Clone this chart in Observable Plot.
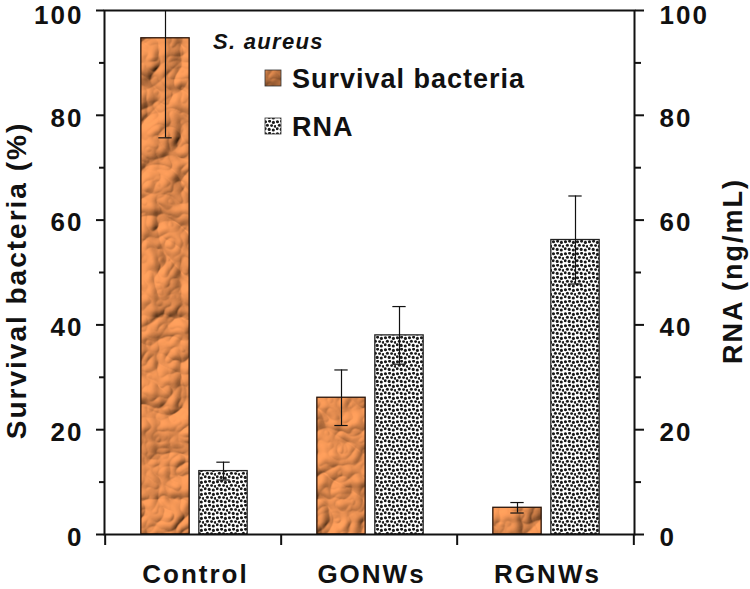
<!DOCTYPE html>
<html><head><meta charset="utf-8">
<script src="https://cdn.jsdelivr.net/npm/d3@7"></script>
<script src="https://cdn.jsdelivr.net/npm/@observablehq/plot@0.6"></script>
<style>
body{margin:0;background:#fff;}
#wrap{position:relative;width:750px;height:589px;}
#legend{position:absolute;left:0;top:0;pointer-events:none;overflow:visible;}
</style></head><body><div id="wrap"></div>
<script>
const categories = ["Control", "GONWs", "RGNWs"];
const survival = [94.7, 26.1, 5.1];
const survivalErr = [19.0, 5.3, 1.0];
const rna = [12.1, 38.0, 56.2];
const rnaErr = [1.7, 5.5, 8.4];
const majorTicks = [0, 20, 40, 60, 80, 100];
const minorTicks = [10, 30, 50, 70, 90];
const leftTitle = "Survival bacteria (%)";
const rightTitle = "RNA (ng/mL)";
const legendTitle = "S. aureus";
const seriesNames = ["Survival bacteria", "RNA"];

const W = 750, H = 589, mL = 104, mR = 116, mT = 10, mB = 55;
const BW = (W - mL - mR) / categories.length;
const barW = 49, gap = 9, shift = 1;
const sIL = BW / 2 + shift - gap / 2 - barW, sIR = BW - sIL - barW;
const rIL = BW / 2 + shift + gap / 2, rIR = BW - rIL - barW;
const sDx = shift - gap / 2 - barW / 2, rDx = shift + gap / 2 + barW / 2;
const capHalf = 7;
const ink = "#111";

const rows = categories.map((c, i) => ({category: c, survival: survival[i], sErr: survivalErr[i], rna: rna[i], rErr: rnaErr[i]}));

const errMarks = (key, errKey, dx) => [
  Plot.ruleX(rows, {x: "category", y1: d => d[key] - d[errKey], y2: d => d[key] + d[errKey], dx, stroke: ink, strokeWidth: 1.2, clip: true}),
  Plot.tickY(rows, {x: "category", y: d => d[key] + d[errKey], dx, insetLeft: BW / 2 - capHalf, insetRight: BW / 2 - capHalf, stroke: ink, strokeWidth: 1.2, clip: true}),
  Plot.tickY(rows, {x: "category", y: d => d[key] - d[errKey], dx, insetLeft: BW / 2 - capHalf, insetRight: BW / 2 - capHalf, stroke: ink, strokeWidth: 1.2, clip: true})
];

const lowLabels = majorTicks.slice(0, -1);
const topLabel = majorTicks.slice(-1);

const plot = Plot.plot({
  width: W, height: H, marginLeft: mL, marginRight: mR, marginTop: mT, marginBottom: mB,
  style: {fontFamily: "'Liberation Sans', Arial, sans-serif", fontWeight: "bold", fontSize: "26px", color: ink, background: "#fff", letterSpacing: "2px", overflow: "visible"},
  x: {domain: categories, padding: 0, axis: null},
  y: {domain: [0, 100], axis: null},
  marks: [
    Plot.barY(rows, {x: "category", y: "survival", fill: "url(#paper)", stroke: "#2a1408", strokeWidth: 1.3, insetLeft: sIL, insetRight: sIR}),
    Plot.barY(rows, {x: "category", y: "rna", fill: "url(#dots)", stroke: "#222", strokeWidth: 1.3, insetLeft: rIL, insetRight: rIR}),
    ...errMarks("survival", "sErr", sDx),
    ...errMarks("rna", "rErr", rDx),
    Plot.frame({stroke: ink, strokeWidth: 2}),
    // left axis: ticks, minor ticks, labels
    Plot.axisY(majorTicks, {anchor: "left", tickSize: 8, strokeWidth: 2, tickFormat: () => "", label: null}),
    Plot.axisY(minorTicks, {anchor: "left", tickSize: 5, strokeWidth: 2, tickFormat: () => "", label: null}),
    Plot.axisY(lowLabels, {anchor: "left", tickSize: 0, tickPadding: 21, dy: 3, label: null}),
    Plot.axisY(topLabel, {anchor: "left", tickSize: 0, tickPadding: 21, dy: 5.5, label: null}),
    // right axis
    Plot.axisY(majorTicks, {anchor: "right", tickSize: 9, strokeWidth: 2, tickFormat: () => "", label: null}),
    Plot.axisY(minorTicks, {anchor: "right", tickSize: 6, strokeWidth: 2, tickFormat: () => "", label: null}),
    Plot.axisY(lowLabels, {anchor: "right", tickSize: 0, tickPadding: 25, dy: 3, label: null}),
    Plot.axisY(topLabel, {anchor: "right", tickSize: 0, tickPadding: 25, dy: 5.5, label: null}),
    // category separators below the baseline
    Plot.ruleX(categories, {x: d => d, dx: -BW / 2, y1: 0, y2: 0, insetBottom: -11, stroke: ink, strokeWidth: 2}),
    Plot.ruleX(categories.slice(-1), {x: d => d, dx: BW / 2, y1: 0, y2: 0, insetBottom: -11, stroke: ink, strokeWidth: 2}),
    Plot.axisX({tickSize: 0, tickPadding: 30, dx: 2, label: null}),
    Plot.text([leftTitle], {text: d => d, frameAnchor: "left", textAnchor: "middle", rotate: -90, dx: -87.5, dy: 8, fontSize: 28}),
    Plot.text([rightTitle], {text: d => d, frameAnchor: "right", textAnchor: "middle", rotate: -90, dx: 98.4, dy: -1.5, fontSize: 27})
  ]
});

d3.select(plot).insert("defs", ":first-child").html(`
  <filter id="crumpleF" filterUnits="userSpaceOnUse" x="0" y="0" width="${W}" height="${H}">
    <feTurbulence type="turbulence" baseFrequency="0.022" numOctaves="3" seed="4" result="t"/>
    <feDiffuseLighting in="t" surfaceScale="7" diffuseConstant="1.15" lighting-color="#f89a58" result="d">
      <feDistantLight azimuth="225" elevation="45"/>
    </feDiffuseLighting>
    <feComposite in="d" in2="SourceAlpha" operator="in"/>
  </filter>
  <pattern id="paper" patternUnits="userSpaceOnUse" width="${W}" height="${H}">
    <rect width="${W}" height="${H}" fill="#d98850" filter="url(#crumpleF)"/>
  </pattern>
  <pattern id="dots" patternUnits="userSpaceOnUse" width="12" height="12">
    <rect width="12" height="12" fill="#fff"/>
    <g fill="#1a1a1a">
      <circle cx="1.5" cy="1.8" r="1.55"/><circle cx="5.6" cy="1.2" r="1.45"/><circle cx="9.4" cy="2.4" r="1.55"/>
      <circle cx="3.4" cy="5.2" r="1.55"/><circle cx="7.6" cy="5.6" r="1.45"/><circle cx="11.2" cy="6.4" r="1.35"/>
      <circle cx="1.2" cy="8.8" r="1.45"/><circle cx="5.2" cy="9.4" r="1.55"/><circle cx="9.3" cy="10" r="1.55"/>
    </g>
  </pattern>`);

const wrap = document.getElementById("wrap");
wrap.appendChild(plot);

// legend
const lg = d3.select(wrap).append("svg").attr("id", "legend").attr("width", W).attr("height", H)
  .style("font-family", "'Liberation Sans', Arial, sans-serif").style("font-weight", "bold").style("fill", ink);
lg.append("text").attr("x", 213).attr("y", 49).style("font-size", "22px").style("font-style", "italic").style("letter-spacing", "1.3px").text(legendTitle);
const fills = ["url(#paper)", "url(#dots)"];
const rowsY = [70, 118];
seriesNames.forEach((name, i) => {
  lg.append("rect").attr("x", 265).attr("y", rowsY[i]).attr("width", 16).attr("height", 16).attr("fill", fills[i]).attr("stroke", "#333").attr("stroke-width", 0.8);
  lg.append("text").attr("x", 292).attr("y", rowsY[i] + 18).style("font-size", "27px").style("letter-spacing", "1px").text(name);
});
</script></body></html>
